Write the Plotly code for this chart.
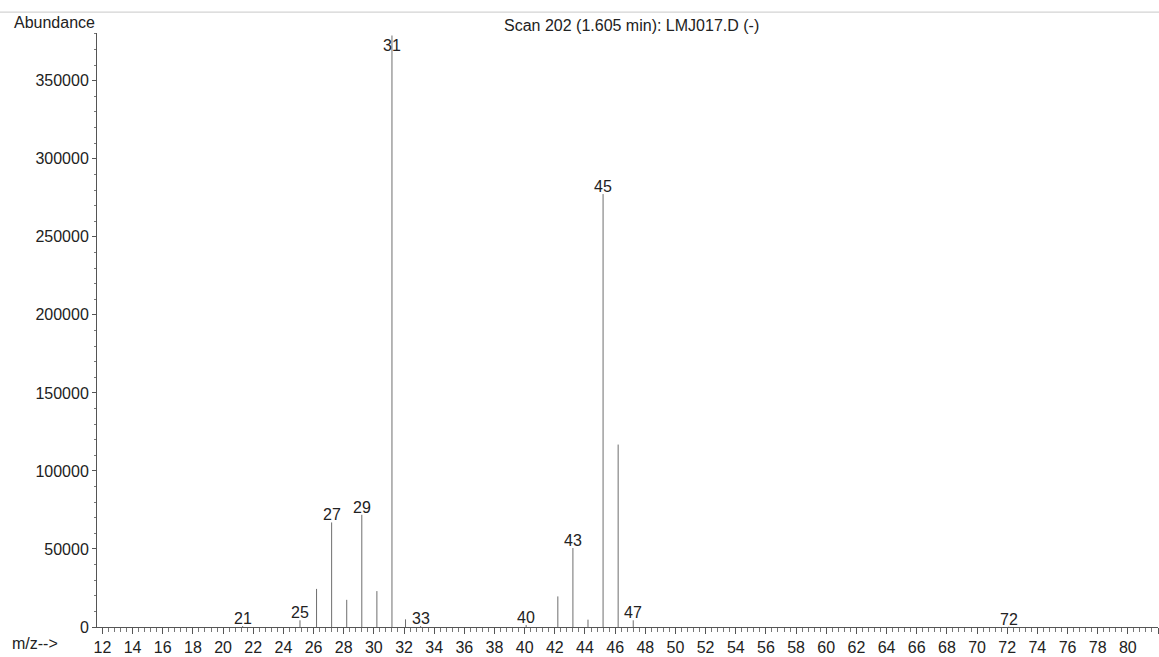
import plotly.graph_objects as go

# Mass spectrum, scan 202 (1.605 min), file LMJ017.D
mz = [21.3, 25.1, 26.2, 27.2, 28.2, 29.2, 30.2, 31.2, 32.1, 33.1,
      40.1, 42.2, 43.2, 44.2, 45.2, 46.2, 47.2, 72.1]
abundance = [600, 4300, 24400, 67000, 17400, 71900, 23000, 379000, 4900, 600,
             1300, 19600, 50600, 4700, 277400, 116900, 4300, 200]
labeled = [21, 25, 27, 29, 31, 33, 40, 43, 45, 47, 72]

y_ticks = [0, 50000, 100000, 150000, 200000, 250000, 300000, 350000]
x_range = [11.64, 82.0]
y_range = [0, 380600]

FONT = "Liberation Sans, Arial, sans-serif"
TEXT = "#222222"

# stick spectrum: one vertical segment per ion
xs, ys = [], []
for m, a in zip(mz, abundance):
    xs += [m, m, None]
    ys += [0, a, None]

fig = go.Figure()
fig.add_trace(go.Scatter(x=xs, y=ys, mode="lines",
                         line=dict(color="#6e6e6e", width=1),
                         hoverinfo="skip", showlegend=False))

annotations = []
for m, a in zip(mz, abundance):
    label = int(round(m - 0.2)) if round(m - 0.2) in labeled else None
    if label is None:
        continue
    near_top = a > 0.95 * y_range[1]
    annotations.append(dict(
        x=m, y=a, xref="x", yref="y", text=str(label), showarrow=False,
        yanchor="top" if near_top else "bottom",
        yshift=1 if near_top else -3,
        font=dict(size=16, color=TEXT, family=FONT)))

annotations += [
    dict(x=12, y=22, xref="paper", yref="paper", text="Abundance",
         showarrow=False, xanchor="left", yanchor="middle",
         font=dict(size=16, color=TEXT, family=FONT)),
    dict(x=631, y=25, xref="paper", yref="paper",
         text="Scan 202 (1.605 min): LMJ017.D (-)", showarrow=False,
         xanchor="center", yanchor="middle",
         font=dict(size=16, color=TEXT, family=FONT)),
    dict(x=10, y=647, xref="paper", yref="paper", text="m/z-->",
         showarrow=False, xanchor="left", yanchor="middle",
         font=dict(size=16, color=TEXT, family=FONT)),
]

W, H = 1159, 657
L, R, T, B = 97, 1, 33, 27
pw, ph = W - L - R, H - T - B


def px_to_paper(px, py):
    return (px - L) / pw, 1 - (py - T) / ph


for ann in annotations:
    if ann["xref"] == "paper":
        ann["x"], ann["y"] = px_to_paper(ann["x"], ann["y"])

fig.update_layout(
    width=W, height=H,
    margin=dict(l=L, r=R, t=T, b=B),
    paper_bgcolor="white", plot_bgcolor="white",
    annotations=annotations,
    font=dict(family=FONT, size=16, color=TEXT),
    shapes=[dict(type="line", xref="paper", yref="paper",
                 x0=px_to_paper(0, 12)[0], x1=px_to_paper(W, 12)[0],
                 y0=px_to_paper(0, 12)[1], y1=px_to_paper(0, 12)[1],
                 line=dict(color="#c8c8c8", width=1))],
    xaxis=dict(range=x_range, tick0=12, dtick=2, ticks="outside", ticklen=6,
               tickwidth=1, tickcolor="#555", showline=True, linecolor="#555",
               linewidth=1, showgrid=False, zeroline=False,
               tickfont=dict(size=16, color=TEXT, family=FONT),
               minor=dict(dtick=0.4, tick0=12, ticks="outside", ticklen=4,
                          tickcolor="#777", showgrid=False)),
    yaxis=dict(range=y_range, tickvals=y_ticks, tickformat="d", ticks="outside",
               ticklen=4, tickwidth=1, tickcolor="#555", showline=True,
               linecolor="#555", linewidth=1, showgrid=False, zeroline=False,
               tickfont=dict(size=16, color=TEXT, family=FONT),
               minor=dict(dtick=10000, tick0=0, ticks="outside", ticklen=2,
                          tickcolor="#777", showgrid=False)),
)

fig.write_html("out.html")
